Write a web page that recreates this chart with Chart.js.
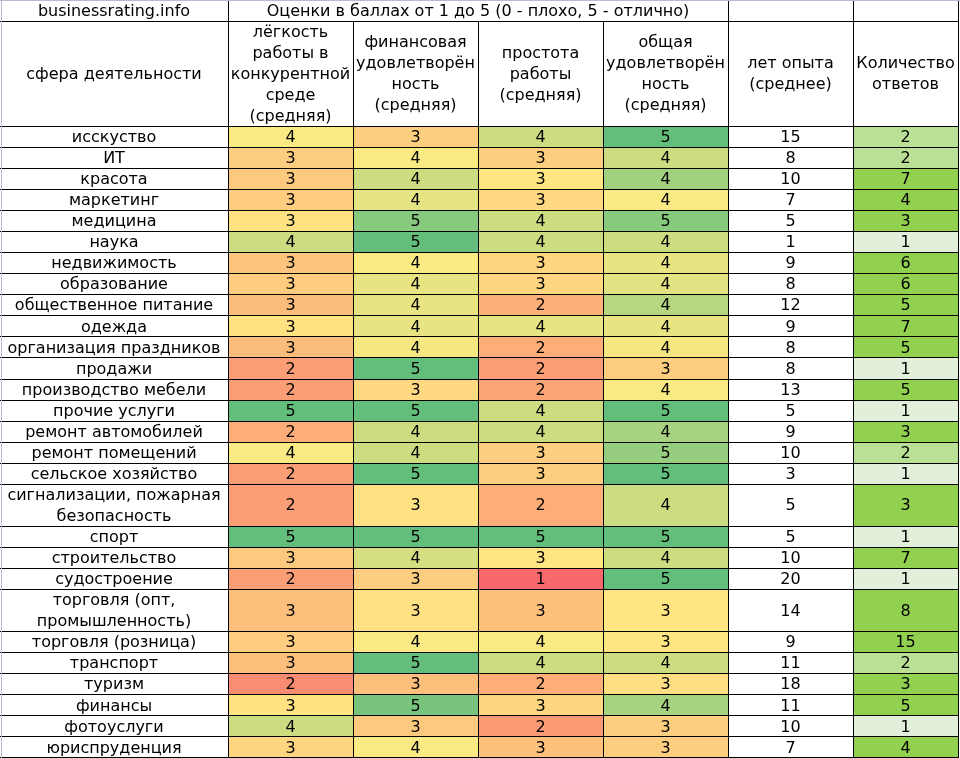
<!DOCTYPE html>
<html>
<head>
<meta charset="utf-8">
<script src="https://cdn.jsdelivr.net/npm/chart.js@4/dist/chart.umd.min.js"></script>
<style>
  body { margin: 0; background: #fff; }
</style>
</head>
<body>
<canvas id="myChart" width="960" height="758"></canvas>
<script>
// data (scores are averages, shown rounded)
var categories = ['исскуство', 'ИТ', 'красота', 'маркетинг', 'медицина', 'наука', 'недвижимость',
  'образование', 'общественное питание', 'одежда', 'организация праздников', 'продажи',
  'производство мебели', 'прочие услуги', 'ремонт автомобилей', 'ремонт помещений',
  'сельское хозяйство', 'сигнализации, пожарная\nбезопасность', 'спорт', 'строительство',
  'судостроение', 'торговля (опт,\nпромышленность)', 'торговля (розница)', 'транспорт',
  'туризм', 'финансы', 'фотоуслуги', 'юриспруденция'];
var ease = [3.55, 2.95, 2.85, 2.9, 3.35, 4.0, 2.75, 2.9, 2.6, 3.35, 2.6, 2.0, 2.0, 5, 2.3, 3.55,
  2.0, 2.0, 5, 2.85, 2.0, 2.65, 2.9, 2.65, 1.67, 3.35, 4.0, 3.1];
var finance = [2.95, 3.55, 4.0, 3.75, 4.65, 5, 3.55, 3.72, 3.72, 3.72, 3.6, 5, 3.15, 5, 4.0, 4.0,
  5, 3.3, 5, 3.9, 2.95, 3.3, 3.55, 5, 2.65, 4.8, 2.85, 3.55];
var simplicity = [4.0, 2.95, 3.4, 3.15, 4.0, 4.0, 3.1, 3.1, 2.35, 3.72, 2.3, 2.0, 2.15, 4.0, 4.0,
  2.95, 2.95, 2.3, 5, 3.4, 1.0, 2.7, 3.55, 4.0, 2.3, 3.1, 1.95, 2.7];
var overall = [5, 4.0, 4.4, 3.55, 4.65, 4.0, 3.72, 3.78, 4.2, 3.72, 3.6, 2.95, 3.55, 5, 4.35, 4.5,
  5, 4.0, 5, 4.0, 5, 3.4, 3.4, 4.0, 3.25, 4.35, 2.95, 2.95];
var years = [15, 8, 10, 7, 5, 1, 9, 8, 12, 9, 8, 8, 13, 5, 9, 10, 3, 5, 5, 10, 20, 14, 9, 11, 18, 11, 10, 7];
var answers = [2, 2, 7, 4, 3, 1, 6, 6, 5, 7, 5, 1, 5, 1, 3, 2, 1, 3, 1, 7, 1, 8, 15, 2, 3, 5, 1, 4];

var headers = ['сфера деятельности', 'лёгкость\nработы в\nконкурентной\nсреде\n(средняя)',
  'финансовая\nудовлетворён\nность\n(средняя)', 'простота\nработы\n(средняя)',
  'общая\nудовлетворён\nность\n(средняя)', 'лет опыта\n(среднее)', 'Количество\nответов'];
var siteLabel = 'businessrating.info';
var scoreTitle = 'Оценки в баллах от 1 до 5 (0 - плохо, 5 - отлично)';

// layout
var colWidths = [228, 125, 125, 125, 125, 125, 105];
var headerUnits = 5;

var red = [248, 105, 107], yellow = [255, 235, 132], green = [99, 190, 123];
function mix(a, b, t) {
  return 'rgb(' + a.map(function (c, i) { return Math.round(c + (b[i] - c) * t); }).join(',') + ')';
}
function scoreColor(v) {
  if (v <= 3.5) return mix(red, yellow, Math.max(0, (v - 1) / 2.5));
  return mix(yellow, green, Math.min(1, (v - 3.5) / 1.5));
}
function countColor(n) {
  return mix([226, 239, 218], [146, 208, 80], Math.min(1, (n - 1) / 2));
}

var columns = [
  { values: ease, color: scoreColor, text: function (v) { return Math.round(v); } },
  { values: finance, color: scoreColor, text: function (v) { return Math.round(v); } },
  { values: simplicity, color: scoreColor, text: function (v) { return Math.round(v); } },
  { values: overall, color: scoreColor, text: function (v) { return Math.round(v); } },
  { values: years, color: function () { return '#ffffff'; }, text: function (v) { return v; } },
  { values: answers, color: countColor, text: function (v) { return v; } }
];

var colEdges = [0];
colWidths.forEach(function (w, i) { colEdges.push(colEdges[i] + w); });
var rowTops = [];
var totalUnits = 1 + headerUnits;
categories.forEach(function (c) {
  rowTops.push(totalUnits);
  totalUnits += c.split('\n').length;
});

var tablePlugin = {
  id: 'table',
  beforeDraw: function (chart) {
    var ctx = chart.ctx;
    var xs = chart.scales.x, ys = chart.scales.y;
    var px = function (v) { return xs.getPixelForValue(v); };
    var py = function (v) { return ys.getPixelForValue(v); };
    var line = function (p, max) { return Math.min(Math.floor(p) + 0.5, max - 0.5); };

    ctx.save();
    ctx.font = '16px "DejaVu Sans"';
    ctx.textAlign = 'center';
    ctx.textBaseline = 'middle';

    function text(str, x0, x1, u0, u1) {
      var lines = String(str).split('\n');
      var start = u0 + (u1 - u0 - lines.length) / 2;
      ctx.fillStyle = '#000';
      lines.forEach(function (l, i) {
        ctx.fillText(l, (px(x0) + px(x1)) / 2, py(start + i + 0.5) + 1);
      });
    }
    function hline(x0, x1, u) {
      var y = line(py(u), chart.height);
      ctx.beginPath(); ctx.moveTo(px(x0), y); ctx.lineTo(px(x1) + 1, y); ctx.stroke();
    }
    function vline(x, u0, u1) {
      var xx = line(px(x), chart.width);
      ctx.beginPath(); ctx.moveTo(xx, py(u0)); ctx.lineTo(xx, py(u1) + 1); ctx.stroke();
    }

    // cell fills
    categories.forEach(function (c, r) {
      var u0 = rowTops[r], u1 = u0 + c.split('\n').length;
      columns.forEach(function (col, k) {
        var v = col.values[r];
        ctx.fillStyle = col.color(v);
        ctx.fillRect(px(colEdges[k + 1]), py(u0), px(colEdges[k + 2]) - px(colEdges[k + 1]), py(u1) - py(u0));
      });
    });

    // grid
    ctx.strokeStyle = '#000';
    ctx.lineWidth = 1;
    var right = colEdges[colEdges.length - 1];
    hline(0, right, 1);
    hline(0, right, 1 + headerUnits);
    rowTops.forEach(function (u, r) { hline(0, right, u + categories[r].split('\n').length); });
    [1, 5, 6, 7].forEach(function (k) { vline(colEdges[k], 0, totalUnits); });
    [2, 3, 4].forEach(function (k) { vline(colEdges[k], 1, totalUnits); });

    ctx.strokeStyle = '#b6bccd';
    ctx.beginPath(); ctx.moveTo(0, 0.5); ctx.lineTo(chart.width, 0.5); ctx.stroke();
    ctx.beginPath(); ctx.moveTo(1.5, 0); ctx.lineTo(1.5, chart.height); ctx.stroke();

    // texts
    text(siteLabel, colEdges[0], colEdges[1], 0, 1);
    text(scoreTitle, colEdges[1], colEdges[5], 0, 1);
    headers.forEach(function (h, k) { text(h, colEdges[k], colEdges[k + 1], 1, 1 + headerUnits); });
    categories.forEach(function (c, r) {
      var u0 = rowTops[r], u1 = u0 + c.split('\n').length;
      text(c, colEdges[0], colEdges[1], u0, u1);
      columns.forEach(function (col, k) {
        text(col.text(col.values[r]), colEdges[k + 1], colEdges[k + 2], u0, u1);
      });
    });
    ctx.restore();
  }
};

var table_chart = new Chart(document.getElementById('myChart'), {
  type: 'scatter',
  data: { datasets: [{ data: [] }] },
  options: {
    responsive: false,
    animation: false,
    layout: { padding: 0 },
    plugins: { legend: { display: false }, tooltip: { enabled: false } },
    scales: {
      x: { type: 'linear', display: false, min: 0, max: 960 },
      y: { type: 'linear', display: false, min: 0, max: totalUnits, reverse: true }
    }
  },
  plugins: [tablePlugin]
});
</script>
</body>
</html>
